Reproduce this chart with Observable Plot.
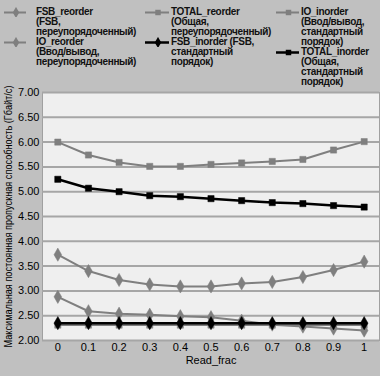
<!DOCTYPE html>
<html><head><meta charset="utf-8">
<script src="https://cdn.jsdelivr.net/npm/d3@7"></script>
<script src="https://cdn.jsdelivr.net/npm/@observablehq/plot@0.6"></script>
<style>
html,body{margin:0;padding:0;background:#c0c0c0;}
#wrap{position:relative;width:380px;height:376px;overflow:hidden;background:#c0c0c0;}
#legend{position:absolute;left:0;top:7px;width:380px;font-family:"Liberation Sans",Arial,sans-serif;font-weight:bold;font-size:10px;line-height:10px;letter-spacing:-0.35px;color:#111;}
.col{position:absolute;top:0;display:flex;flex-direction:column;}
.entry{position:relative;white-space:pre;}
.entry svg{position:absolute;top:0;}
</style></head>
<body><div id="wrap"><div id="chart"></div><div id="legend"></div></div>
<script>
const xValues = [0, 0.1, 0.2, 0.3, 0.4, 0.5, 0.6, 0.7, 0.8, 0.9, 1];
const xTickLabels = ["0", "0.1", "0.2", "0.3", "0.4", "0.5", "0.6", "0.7", "0.8", "0.9", "1"];
const yTicks = [2, 2.5, 3, 3.5, 4, 4.5, 5, 5.5, 6, 6.5, 7];
const fsbReorder   = [3.73, 3.40, 3.22, 3.13, 3.09, 3.09, 3.15, 3.18, 3.28, 3.42, 3.59];
const totalReorder = [6.00, 5.74, 5.59, 5.51, 5.51, 5.55, 5.58, 5.61, 5.65, 5.84, 6.01];
const ioInorder    = [2.31, 2.31, 2.31, 2.31, 2.31, 2.31, 2.31, 2.31, 2.31, 2.31, 2.31];
const ioReorder    = [2.88, 2.59, 2.54, 2.52, 2.49, 2.47, 2.40, 2.32, 2.28, 2.24, 2.20];
const fsbInorder   = [2.35, 2.35, 2.35, 2.35, 2.35, 2.35, 2.35, 2.35, 2.35, 2.35, 2.35];
const totalInorder = [5.25, 5.07, 5.00, 4.92, 4.90, 4.86, 4.82, 4.78, 4.76, 4.72, 4.69];
const xTitle = "Read_frac";
const yTitle = "Максимальная постоянная пропускная способность (Гбайт/с)";
const legendLabels = [
  "FSB_reorder\n(FSB,\nпереупорядоченный)",
  "TOTAL_reorder\n(Общая,\nпереупорядоченный)",
  "IO_inorder\n(Ввод/вывод,\nстандартный\nпорядок)",
  "IO_reorder\n(Ввод/вывод,\nпереупорядоченный)",
  "FSB_inorder (FSB,\nстандартный\nпорядок)",
  "TOTAL_inorder\n(Общая,\nстандартный\nпорядок)"
];

const GRAY = "#7f7f7f", BLACK = "#000";
const series = [
  {values: fsbReorder,   color: GRAY,  symbol: "diamond", width: 2},
  {values: totalReorder, color: GRAY,  symbol: "square",  width: 2},
  {values: ioInorder,    color: GRAY,  symbol: "square",  width: 2},
  {values: ioReorder,    color: GRAY,  symbol: "diamond", width: 2},
  {values: fsbInorder,   color: BLACK, symbol: "diamond", width: 2.5},
  {values: totalInorder, color: BLACK, symbol: "square",  width: 2.5}
];
const drawOrder = [2, 3, 0, 1, 4, 5];

const marks = [
  Plot.frame({fill: "#efefef", stroke: "#a0a0a0"}),
  Plot.ruleY(yTicks, {stroke: "#a6a6a6", strokeWidth: 2})
];
for (const i of drawOrder) {
  const s = series[i];
  const data = xValues.map((x, j) => ({x, y: s.values[j]}));
  marks.push(Plot.line(data, {x: "x", y: "y", stroke: s.color, strokeWidth: s.width}));
  marks.push(Plot.dot(data, {x: "x", y: "y", fill: s.color, stroke: s.color, strokeWidth: 0.5, symbol: s.symbol, r: s.symbol === "diamond" ? 4 : 3.5}));
}
marks.push(Plot.text([xTitle], {frameAnchor: "bottom", dy: 23, fontSize: 11}));
marks.push(Plot.text([yTitle], {frameAnchor: "left", textAnchor: "middle", rotate: -90, dx: -34, fontSize: 10}));

const chart = Plot.plot({
  width: 380, height: 376,
  marginTop: 92, marginBottom: 36, marginLeft: 42, marginRight: 1,
  style: {background: "transparent", fontFamily: "'Liberation Sans', Arial, sans-serif", fontSize: "11px", color: "#000"},
  x: {domain: [-0.05, 1.05], ticks: xValues, tickFormat: d => xTickLabels[xValues.indexOf(d)], tickSize: 0, tickPadding: 3, label: null},
  y: {domain: [2, 7], ticks: yTicks, tickFormat: d => d.toFixed(2), tickSize: 0, tickPadding: 3, label: null},
  marks
});
document.getElementById("chart").appendChild(chart);
d3.select(chart).selectAll("text").each(function() {
  if (this.textContent === yTitle) {
    d3.select(this).attr("text-anchor", "middle").attr("textLength", 262).attr("lengthAdjust", "spacingAndGlyphs");
  }
});

// legend
const cols = [
  {markerX: 4, textX: 36, items: [0, 3], lineW: 22},
  {markerX: 145, textX: 171, items: [1, 4], lineW: 24},
  {markerX: 276, textX: 301, items: [2, 5], lineW: 23}
];
const legend = d3.select("#legend");
for (const c of cols) {
  const col = legend.append("div").attr("class", "col").style("left", c.textX + "px");
  for (const i of c.items) {
    const s = series[i];
    const e = col.append("div").attr("class", "entry").text(legendLabels[i]);
    const svg = e.append("svg").attr("width", c.textX - c.markerX).attr("height", 10)
      .style("left", (c.markerX - c.textX) + "px");
    svg.append("line").attr("x1", 0).attr("x2", c.lineW).attr("y1", 5.5).attr("y2", 5.5)
      .attr("stroke", s.color).attr("stroke-width", s.width);
    const sym = s.symbol === "diamond" ? d3.symbolDiamond : d3.symbolSquare;
    svg.append("path").attr("d", d3.symbol(sym, s.symbol === "diamond" ? 36 : 30)())
      .attr("transform", `translate(${c.lineW / 2 + 1},5.5)`).attr("fill", s.color);
  }
}
</script></body></html>
